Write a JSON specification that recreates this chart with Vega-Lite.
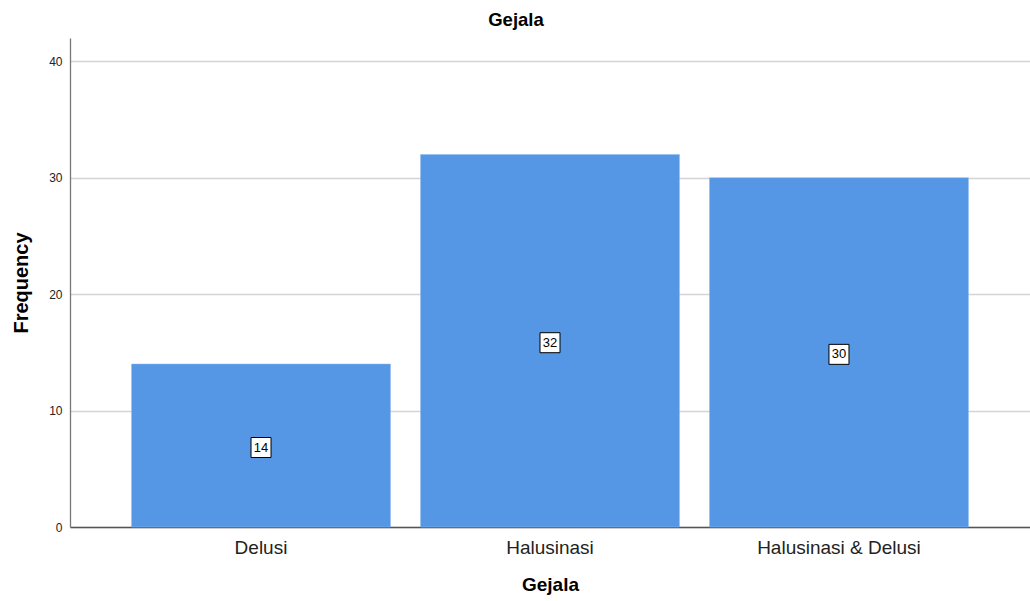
{
  "$schema": "https://vega.github.io/schema/vega-lite/v6.json",
  "autosize": "none",
  "width": 960,
  "height": 489,
  "padding": {"left": 70, "top": 38, "right": 0, "bottom": 74},
  "background": "white",
  "config": {
    "font": "Liberation Sans",
    "view": {"stroke": null}
  },
  "title": {
    "text": "Gejala",
    "font": "Liberation Sans",
    "fontSize": 18.5,
    "fontWeight": "bold",
    "color": "#000000",
    "offset": 9,
    "dx": -34
  },
  "data": {
    "values": [
      {"Gejala": "Delusi", "Frequency": 14},
      {"Gejala": "Halusinasi", "Frequency": 32},
      {"Gejala": "Halusinasi & Delusi", "Frequency": 30}
    ]
  },
  "encoding": {
    "x": {
      "field": "Gejala",
      "type": "nominal",
      "sort": null,
      "scale": {"paddingInner": 0.104, "paddingOuter": 0.213},
      "axis": {
        "title": "Gejala",
        "titleFontSize": 19,
        "titleFontWeight": "bold",
        "titleColor": "#000000",
        "titlePadding": 18,
        "labelAngle": 0,
        "labelFontSize": 19,
        "labelColor": "#222222",
        "labelPadding": 11,
        "ticks": false,
        "domainColor": "#555555",
        "domainWidth": 1.3
      }
    }
  },
  "layer": [
    {
      "mark": {"type": "bar", "color": "#5596e5", "stroke": "#8fb8ee", "strokeWidth": 0.5},
      "encoding": {
        "y": {
          "field": "Frequency",
          "type": "quantitative",
          "scale": {"domain": [0, 42], "nice": false},
          "axis": {
            "values": [0, 10, 20, 30, 40],
            "title": "Frequency",
            "titleFontSize": 20,
            "titleFontWeight": "bold",
            "titleColor": "#000000",
            "titlePadding": 17,
            "labelFontSize": 12,
            "labelColor": "#222222",
            "labelPadding": 8,
            "ticks": false,
            "grid": true,
            "gridColor": "#d4d4d4",
            "gridWidth": 1.3,
            "domainColor": "#777777",
            "domainWidth": 1.3
          }
        }
      }
    },
    {
      "transform": [{"calculate": "datum.Frequency / 2", "as": "mid"}],
      "mark": {"type": "point", "shape": "square", "size": 400, "filled": true, "fill": "white", "stroke": "#000000", "strokeWidth": 1, "opacity": 1, "yOffset": 2},
      "encoding": {
        "y": {"field": "mid", "type": "quantitative"}
      }
    },
    {
      "transform": [{"calculate": "datum.Frequency / 2", "as": "mid"}],
      "mark": {"type": "text", "fontSize": 13, "color": "#000000", "baseline": "middle", "align": "center", "yOffset": 2},
      "encoding": {
        "y": {"field": "mid", "type": "quantitative"},
        "text": {"field": "Frequency", "type": "quantitative"}
      }
    }
  ]
}
